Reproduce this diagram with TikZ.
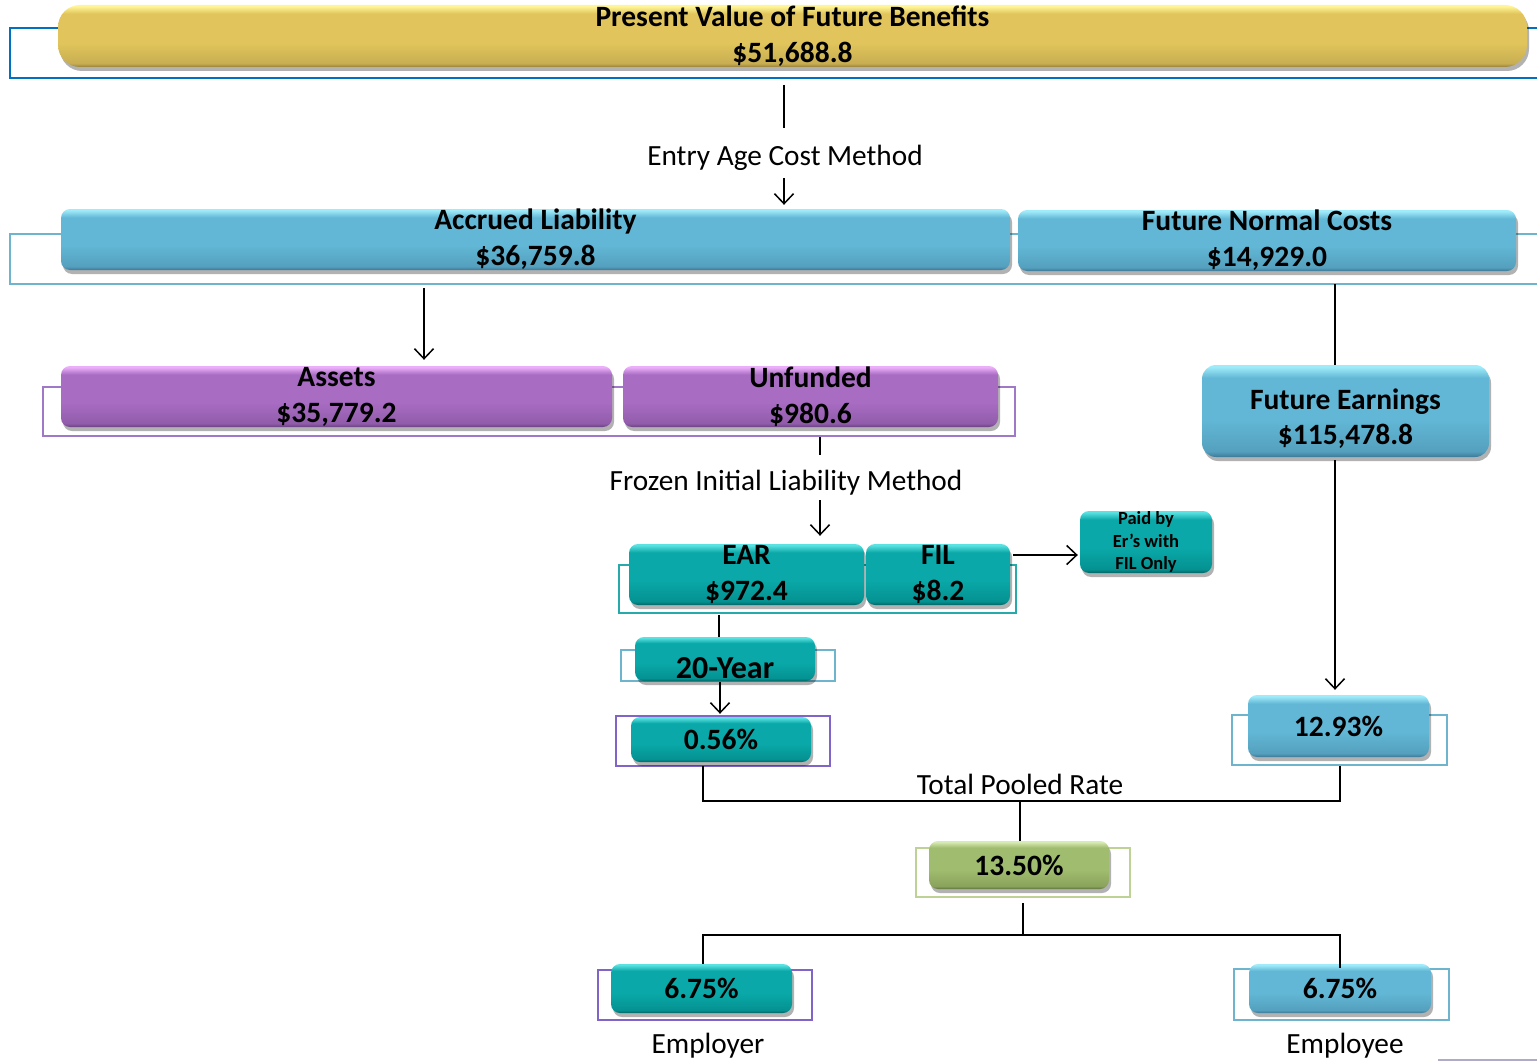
\documentclass[tikz,border=0pt]{standalone}
\usepackage{fontspec}
\setmainfont{Carlito}
\usetikzlibrary{shadows,arrows.meta}
\definecolor{outBlue}{RGB}{0,112,192}
\definecolor{outLBlue}{RGB}{110,180,205}
\definecolor{outPurple}{RGB}{160,120,200}
\definecolor{outVPurple}{RGB}{128,100,200}
\definecolor{outTeal}{RGB}{40,170,170}
\definecolor{outGreen}{RGB}{190,210,150}
% gold
\definecolor{goldT}{RGB}{255,245,150}
\definecolor{goldM}{RGB}{225,197,92}
\definecolor{goldL}{RGB}{200,174,82}
\definecolor{goldB}{RGB}{150,128,60}
% blue
\definecolor{blueT}{RGB}{160,235,250}
\definecolor{blueM}{RGB}{97,183,213}
\definecolor{blueL}{RGB}{84,160,190}
\definecolor{blueB}{RGB}{60,120,150}
% purple
\definecolor{purT}{RGB}{235,175,250}
\definecolor{purM}{RGB}{168,108,195}
\definecolor{purL}{RGB}{145,92,170}
\definecolor{purB}{RGB}{105,65,130}
% teal
\definecolor{tealT}{RGB}{90,225,225}
\definecolor{tealM}{RGB}{10,168,168}
\definecolor{tealL}{RGB}{5,145,145}
\definecolor{tealB}{RGB}{0,100,100}
% green
\definecolor{grnT}{RGB}{215,235,180}
\definecolor{grnM}{RGB}{160,188,110}
\definecolor{grnL}{RGB}{138,163,92}
\definecolor{grnB}{RGB}{95,115,60}
\pgfdeclareverticalshading{goldsh}{100bp}{color(0bp)=(goldB); color(25bp)=(goldB); color(28bp)=(goldL); color(45bp)=(goldM); color(68bp)=(goldM); color(74bp)=(goldT); color(100bp)=(goldT)}
\pgfdeclareverticalshading{bluesh}{100bp}{color(0bp)=(blueB); color(25bp)=(blueB); color(28bp)=(blueL); color(45bp)=(blueM); color(68bp)=(blueM); color(74bp)=(blueT); color(100bp)=(blueT)}
\pgfdeclareverticalshading{pursh}{100bp}{color(0bp)=(purB); color(25bp)=(purB); color(28bp)=(purL); color(45bp)=(purM); color(68bp)=(purM); color(74bp)=(purT); color(100bp)=(purT)}
\pgfdeclareverticalshading{tealsh}{100bp}{color(0bp)=(tealB); color(25bp)=(tealB); color(28bp)=(tealL); color(45bp)=(tealM); color(68bp)=(tealM); color(74bp)=(tealT); color(100bp)=(tealT)}
\pgfdeclareverticalshading{grnsh}{100bp}{color(0bp)=(grnB); color(25bp)=(grnB); color(28bp)=(grnL); color(45bp)=(grnM); color(68bp)=(grnM); color(74bp)=(grnT); color(100bp)=(grnT)}
\tikzset{
  conn/.style={line width=1.5pt, black},
  arr/.style={conn, -{Straight Barb[length=10pt,width=19pt,line width=1.5pt]}},
  bar/.style={rounded corners=9pt, inner sep=0pt, align=center,
    font=\fontsize{29.5}{36}\selectfont\bfseries,
    drop shadow={shadow xshift=2pt, shadow yshift=-4pt, opacity=0.3, fill=black}},
  gold/.style={bar, shading=goldsh},
  bluebar/.style={bar, shading=bluesh},
  purbar/.style={bar, shading=pursh},
  tealbar/.style={bar, shading=tealsh},
  grnbar/.style={bar, shading=grnsh},
  outl/.style={draw=#1, line width=2pt, inner sep=0pt, fill=white},
  lbl/.style={font=\fontsize{29.3}{34}\selectfont, inner sep=0pt},
  btxt/.style={font=\fontsize{29.5}{35}\selectfont\bfseries, inner sep=0pt, align=center}
}
\begin{document}
\begin{tikzpicture}[x=1pt, y=-1pt]
\useasboundingbox (0,0) rectangle (1537,1062);

% ---------- top ----------
\node[outl=outBlue, minimum width=1535pt, minimum height=50pt] (pvfbO) at (777.5,53) {};
\node[gold, rounded corners=22pt, minimum width=1469pt, minimum height=62pt] (pvfb) at (792.5,36) {Present Value of Future Benefits\\\$51,688.8};

\node[lbl] (eacm) at (785,158) {Entry Age Cost Method};

% ---------- accrued / future normal ----------
\node[outl=outLBlue, minimum width=1535pt, minimum height=50pt] (alO) at (777.5,259) {};
\node[bluebar, minimum width=949pt, minimum height=61pt] (al) at (535.5,239.5) {Accrued Liability\\\$36,759.8};
\node[bluebar, minimum width=498pt, minimum height=61pt] (fnc) at (1267,240.5) {Future Normal Costs\\\$14,929.0};

% ---------- assets / unfunded ----------
\node[outl=outPurple, minimum width=972pt, minimum height=49pt] (asO) at (529,411.5) {};
\node[purbar, minimum width=551pt, minimum height=61pt] (assets) at (336.5,396.5) {Assets\\\$35,779.2};
\node[purbar, minimum width=375pt, minimum height=61pt] (unf) at (810.5,396.5) {Unfunded\\\$980.6};

\node[bluebar, rounded corners=14pt, minimum width=287pt, minimum height=92pt] (fe) at (1345.5,411) {};
\node[btxt] (feT) at (1345.5,419) {Future Earnings\\\$115,478.8};

\node[lbl] (film) at (786,483) {Frozen Initial Liability Method};

% ---------- EAR / FIL ----------
\node[outl=outTeal, minimum width=397pt, minimum height=48pt] (earO) at (817.5,589) {};
\node[tealbar, minimum width=235pt, minimum height=61pt] (ear) at (746.5,574.5) {EAR\\\$972.4};
\node[tealbar, minimum width=144pt, minimum height=61pt] (fil) at (938,574.5) {FIL\\\$8.2};
\node[tealbar, minimum width=132pt, minimum height=62pt,
  font=\fontsize{18.5}{22.5}\selectfont\bfseries] (paid) at (1146,542) {Paid by\\Er’s with\\FIL Only};

% ---------- 20-Year / 0.56% ----------
\node[outl=outLBlue, minimum width=214pt, minimum height=31pt] (yrO) at (728,665.5) {};
\node[tealbar, minimum width=180pt, minimum height=44pt] (yr) at (725,659) {};
\node[font=\fontsize{32}{36}\selectfont\bfseries, inner sep=0pt] (yrT) at (725,668) {20-Year};

\node[outl=outVPurple, minimum width=214pt, minimum height=50pt] (pctO) at (723,741) {};
\node[tealbar, minimum width=180pt, minimum height=45pt] (pct) at (721,739.5) {0.56\%};

% ---------- 12.93% ----------
\node[outl=outLBlue, minimum width=215pt, minimum height=50pt] (nrO) at (1339.5,740) {};
\node[bluebar, minimum width=181pt, minimum height=62pt] (nr) at (1338.5,726) {12.93\%};

% ---------- total ----------
\node[lbl] (tpr) at (1020,784) {Total Pooled Rate};
\node[outl=outGreen, minimum width=214pt, minimum height=49pt] (totO) at (1023,872.5) {};
\node[grnbar, minimum width=180pt, minimum height=48pt] (tot) at (1019,865) {13.50\%};

% ---------- employer / employee ----------
\node[outl=outVPurple, minimum width=214pt, minimum height=50pt] (erO) at (705,995) {};
\node[tealbar, minimum width=181pt, minimum height=49pt] (er) at (701.5,988.5) {6.75\%};
\node[lbl] (erL) at (708,1046) {Employer};
\node[outl=outLBlue, minimum width=215pt, minimum height=51pt] (eeO) at (1341.5,994.5) {};
\node[bluebar, minimum width=182pt, minimum height=49pt] (ee) at (1340,988.5) {6.75\%};
\node[lbl] (eeL) at (1345,1046) {Employee};

% ---------- connectors ----------
\coordinate (c1) at (784,85);
\coordinate (c1b) at (784,128);
\coordinate (c1c) at (784,178);
\draw[conn] (c1) -- (c1b);
\draw[arr] (c1c) -- ([yshift=4pt]c1c |- al.north);

\coordinate (c2) at (424,288);
\draw[arr] (c2) -- ([yshift=6pt]c2 |- assets.north);
\coordinate (c3) at (1335,284);
\draw[conn] (c3) -- (c3 |- fe.north);

\coordinate (c4) at (820,437);
\coordinate (c4b) at (820,455);
\coordinate (c4c) at (820,500);
\draw[conn] (c4) -- (c4b);
\draw[arr] (c4c) -- ([yshift=8pt]c4c |- ear.north);

\coordinate (c5) at (1013,555);
\draw[arr] (c5) -- ([xshift=-2pt]paid.west |- c5);

\coordinate (c6) at (719,615);
\draw[conn] (c6) -- (c6 |- yr.north);
\coordinate (c7) at (720,682);
\draw[arr] (c7) -- ([yshift=3pt]c7 |- pct.north);

\coordinate (c8) at (1335,460);
\draw[arr] (c8) -- ([yshift=5pt]c8 |- nr.north);

\coordinate (p1) at (703,766);
\coordinate (p2) at (1340,766);
\coordinate (pm) at (1020,801);
\draw[conn] (p1) -- (p1 |- pm) -- (p2 |- pm) -- (p2);
\draw[conn] (pm) -- (pm |- tot.north);

\coordinate (q0) at (1023,903);
\coordinate (qm) at (1023,935);
\draw[conn] (q0) -- (qm);
\draw[conn] (er.north -| p1) -- (p1 |- qm) -- (p2 |- qm) -- ([yshift=-4pt]p2 |- ee.north);

% faint line bottom right
\coordinate (z1) at (1438,1060);
\coordinate (z2) at (1537,1060);
\draw[line width=1.5pt, color={rgb,255:red,175;green,170;blue,200}] (z1) -- (z2);
\end{tikzpicture}
\end{document}
